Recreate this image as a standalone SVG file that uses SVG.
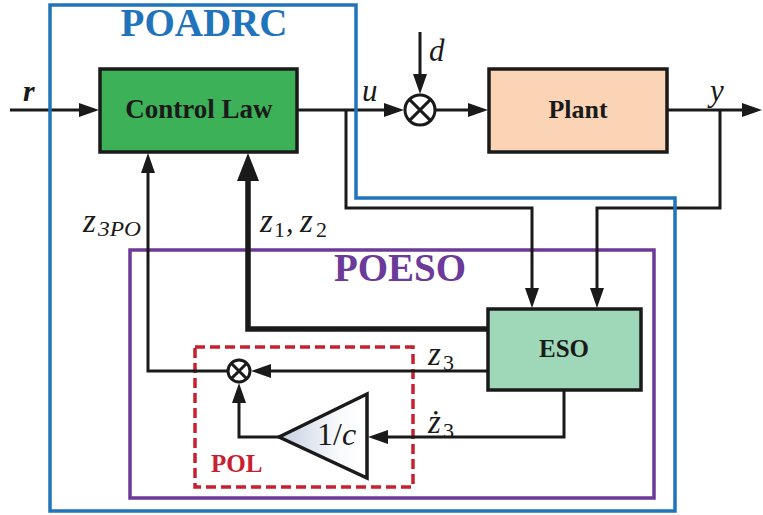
<svg xmlns="http://www.w3.org/2000/svg" width="763" height="515" viewBox="0 0 763 515">
<defs>
<style>
.ln{fill:none;stroke:#1a1a1a;stroke-width:3;stroke-linejoin:miter}
.thick{fill:none;stroke:#1a1a1a;stroke-width:5.5}
.box{stroke:#1a1a1a;stroke-width:3.5}
.lbl{font-family:"Liberation Serif",serif;font-weight:bold;fill:#1a1a1a;text-anchor:middle}
.math{font-family:"Liberation Serif",serif;font-style:italic;fill:#1a1a1a}
.sub{font-family:"Liberation Serif",serif;fill:#1a1a1a;font-size:22px}
.sum{fill:#fff;stroke:#1a1a1a;stroke-width:3}
</style>
<marker id="ah" viewBox="0 0 20 14" markerWidth="20" markerHeight="14" markerUnits="userSpaceOnUse" refX="4" refY="7" orient="auto">
<path d="M0,0 L20,7 L0,14 Z" fill="#1a1a1a"/>
</marker>
<marker id="ahb" viewBox="0 0 28 22" markerWidth="28" markerHeight="22" markerUnits="userSpaceOnUse" refX="4" refY="11" orient="auto">
<path d="M0,0 L28,11 L0,22 Z" fill="#1a1a1a"/>
</marker>
<linearGradient id="tg" x1="0" y1="0" x2="1" y2="0">
<stop offset="0" stop-color="#c4cfe0"/>
<stop offset="0.7" stop-color="#fafbfd"/>
<stop offset="1" stop-color="#ffffff"/>
</linearGradient>
</defs>
<rect width="763" height="515" fill="#ffffff"/>

<g id="poeso">
<rect x="130" y="250" width="524" height="248" fill="none" stroke="#6c3a98" stroke-width="3.5"/>
<text x="400" y="281" font-family="Liberation Serif, serif" font-weight="bold" font-size="39" fill="#6c3a98" text-anchor="middle">POESO</text>
</g>

<g id="pol">
<rect x="195" y="347" width="218" height="140" fill="none" stroke="#c8202e" stroke-width="3.5" stroke-dasharray="10 5"/>
<text x="211" y="472" font-family="Liberation Serif, serif" font-weight="bold" font-size="25" fill="#c8202e">POL</text>
</g>

<g id="connectors">
<path class="ln" d="M10,110 H83" marker-end="url(#ah)"/>
<path class="ln" d="M297,110 H388" marker-end="url(#ah)"/>
<path class="ln" d="M420,32 V78" marker-end="url(#ah)"/>
<path class="ln" d="M436,110 H472" marker-end="url(#ah)"/>
<path class="ln" d="M667,110 H746" marker-end="url(#ah)"/>
<path class="ln" d="M346,110 V208 H532 V292" marker-end="url(#ah)"/>
<path class="ln" d="M720,110 V208 H597 V292" marker-end="url(#ah)"/>
<path class="thick" d="M487,329 H248 V177" marker-end="url(#ahb)"/>
<path class="ln" d="M228,371 H148 V169" marker-end="url(#ah)"/>
<path class="ln" d="M487,371 H267" marker-end="url(#ah)"/>
<path class="ln" d="M564,390 V437 H384" marker-end="url(#ah)"/>
<path class="ln" d="M279,437 H239 V399" marker-end="url(#ah)"/>
</g>

<g id="control-law">
<rect class="box" x="100" y="69" width="197" height="83" fill="#3db158"/>
<text class="lbl" x="199" y="118" font-size="27">Control Law</text>
</g>

<g id="sum1">
<circle class="sum" cx="420" cy="110" r="15"/>
<path d="M409.4,99.4 L430.6,120.6 M430.6,99.4 L409.4,120.6" stroke="#1a1a1a" stroke-width="3"/>
</g>

<g id="plant">
<rect class="box" x="489" y="69" width="178" height="83" fill="#fad4b5"/>
<text class="lbl" x="578" y="118" font-size="26">Plant</text>
</g>

<g id="eso">
<rect class="box" x="488" y="309" width="153" height="81" fill="#9fd8b9"/>
<text class="lbl" x="564" y="357" font-size="25">ESO</text>
</g>

<g id="sum2">
<circle class="sum" cx="239" cy="371" r="11"/>
<path d="M231.2,363.2 L246.8,378.8 M246.8,363.2 L231.2,378.8" stroke="#1a1a1a" stroke-width="3"/>
</g>

<g id="gain">
<polygon points="279,437 367,394 367,478" fill="url(#tg)" stroke="#1a1a1a" stroke-width="3.5" stroke-linejoin="miter"/>
<text x="317" y="445" font-family="Liberation Serif, serif" font-size="32" fill="#1a1a1a">1/<tspan font-style="italic">c</tspan></text>
</g>

<g id="poadrc">
<path d="M50,5 H356 V198 H675 V511 H50 Z" fill="none" stroke="#1f74bb" stroke-width="3.5"/>
<text x="204" y="36" font-family="Liberation Serif, serif" font-weight="bold" font-size="39" fill="#1f74bb" text-anchor="middle">POADRC</text>
</g>

<g id="labels">
<text x="23" y="101" font-family="Liberation Serif, serif" font-weight="bold" font-style="italic" font-size="30" fill="#1a1a1a">r</text>
<text class="math" x="362" y="101" font-size="31">u</text>
<text class="math" x="429" y="61" font-size="31">d</text>
<text class="math" x="710" y="101" font-size="31">y</text>
<text class="math" x="83" y="232" font-size="33">z</text>
<text class="math" x="98" y="236" font-size="22" textLength="43" lengthAdjust="spacingAndGlyphs">3PO</text>
<text class="math" x="260" y="232" font-size="33">z</text>
<text class="sub" x="274" y="237">1</text>
<text class="math" x="286" y="232" font-size="30" font-style="normal">,</text>
<text class="math" x="300" y="232" font-size="33">z</text>
<text class="sub" x="316" y="237">2</text>
<text class="math" x="428" y="365" font-size="33">z</text>
<text class="sub" x="443" y="370">3</text>
<text class="math" x="428" y="433" font-size="33">ż</text>
<text class="sub" x="443" y="438">3</text>
</g>
</svg>
